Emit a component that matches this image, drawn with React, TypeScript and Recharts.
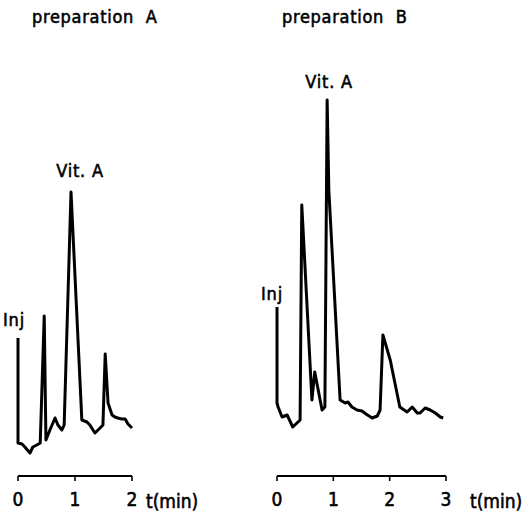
import React from 'react';
import { LineChart, Line, XAxis, YAxis, ReferenceDot, Label } from 'recharts';

// retention time (min) and detector response (arbitrary units)
const timesA = [0, 0, 0.07, 0.12, 0.21, 0.26, 0.33, 0.39, 0.46, 0.49, 0.56, 0.65, 0.7, 0.77, 0.81, 0.93, 1.12, 1.21, 1.26, 1.35, 1.44, 1.49, 1.53, 1.58, 1.65, 1.7, 1.75, 1.82, 1.88, 1.93, 2.0];
const signalA = [13.8, 3.3, 3.2, 2.9, 2.3, 2.9, 3.1, 3.3, 16.0, 3.6, 4.6, 5.8, 5.1, 4.6, 5.1, 28.4, 5.6, 5.4, 5.1, 4.3, 4.8, 5.1, 12.2, 7.3, 6.1, 5.9, 5.8, 5.7, 5.7, 5.2, 4.8];

const timesB = [0, 0, 0.02, 0.09, 0.18, 0.28, 0.41, 0.44, 0.62, 0.67, 0.8, 0.85, 0.89, 0.92, 1.12, 1.21, 1.26, 1.33, 1.42, 1.51, 1.58, 1.69, 1.78, 1.83, 1.88, 2.01, 2.18, 2.31, 2.4, 2.49, 2.54, 2.63, 2.72, 2.81, 2.9, 2.95];
const signalB = [16.9, 7.3, 6.9, 5.9, 6.1, 4.9, 5.6, 27.1, 7.6, 10.4, 6.6, 6.9, 37.6, 28.6, 7.6, 7.3, 7.4, 6.9, 6.6, 6.5, 6.2, 5.8, 6.0, 6.6, 14.1, 11.6, 6.9, 6.4, 6.9, 6.3, 6.3, 6.8, 6.6, 6.3, 5.9, 5.8];

const ticksA = [0, 1, 2];
const ticksB = [0, 1, 2, 3];

const titles = ['preparation  A', 'preparation  B'];
const xUnit = 't(min)';

// peak annotations: index into the series + label text
const notesA = [{ i: 0, text: 'Inj', dx: -4, offset: 12 }, { i: 15, text: 'Vit. A', dx: 9, offset: 15 }];
const notesB = [{ i: 0, text: 'Inj', dx: -5, offset: 7 }, { i: 12, text: 'Vit. A', dx: 2, offset: 12 }];

const FONT = '"DejaVu Sans Condensed", "Liberation Sans Narrow", sans-serif';
// thin outline gives the plotter-lettering weight without widening the glyphs
const ink = { fill: '#000', stroke: '#000', strokeWidth: 0.55, fontFamily: FONT };

const toRows = (t: number[], s: number[]) => t.map((x, i) => ({ t: x, s: s[i] }));

const Trace = ({ rows, ticks, notes, width, left, right, unitOffset }: any) => (
  <LineChart width={width} height={516} data={rows} margin={{ top: 76, left, right, bottom: 0 }}>
    <YAxis hide type="number" domain={[0, 40]} />
    <XAxis
      type="number"
      dataKey="t"
      domain={[ticks[0], ticks[ticks.length - 1]]}
      ticks={ticks}
      height={40}
      tickSize={5}
      tickMargin={12}
      axisLine={{ stroke: '#000', strokeWidth: 2 }}
      tickLine={{ stroke: '#000', strokeWidth: 1.6 }}
      tick={{ ...ink, fontSize: 19 }}
    >
      <Label value={xUnit} position="right" offset={unitOffset} dy={5} {...ink} fontSize={19} />
    </XAxis>
    <Line type="linear" dataKey="s" stroke="#000" strokeWidth={3} dot={false} isAnimationActive={false} strokeLinejoin="round" />
    {notes.map((n: any) => (
      <ReferenceDot
        key={n.text}
        x={rows[n.i].t}
        y={rows[n.i].s}
        r={0}
        label={{ value: n.text, position: 'top', offset: n.offset, dx: n.dx, ...ink, fontSize: 18, letterSpacing: 0.8 }}
      />
    ))}
  </LineChart>
);

export default function App() {
  const rowsA = toRows(timesA, signalA);
  const rowsB = toRows(timesB, signalB);
  const titleStyle: any = { whiteSpace: 'pre', letterSpacing: 0.7 };
  return (
    <div style={{ position: 'absolute', left: 0, top: 0, width: 530, height: 516, background: '#fff' }}>
      <svg width={530} height={30} style={{ position: 'absolute', left: 0, top: 0 }}>
        <text x={32} y={23} fontSize={18} {...ink} style={titleStyle}>{titles[0]}</text>
        <text x={282} y={23} fontSize={18} {...ink} style={titleStyle}>{titles[1]}</text>
      </svg>
      <div style={{ position: 'absolute', left: 0, top: 0 }}>
        <Trace rows={rowsA} ticks={ticksA} notes={notesA} width={240} left={18} right={108} unitOffset={14} />
      </div>
      <div style={{ position: 'absolute', left: 240, top: 0 }}>
        <Trace rows={rowsB} ticks={ticksB} notes={notesB} width={290} left={37} right={84} unitOffset={24} />
      </div>
    </div>
  );
}
